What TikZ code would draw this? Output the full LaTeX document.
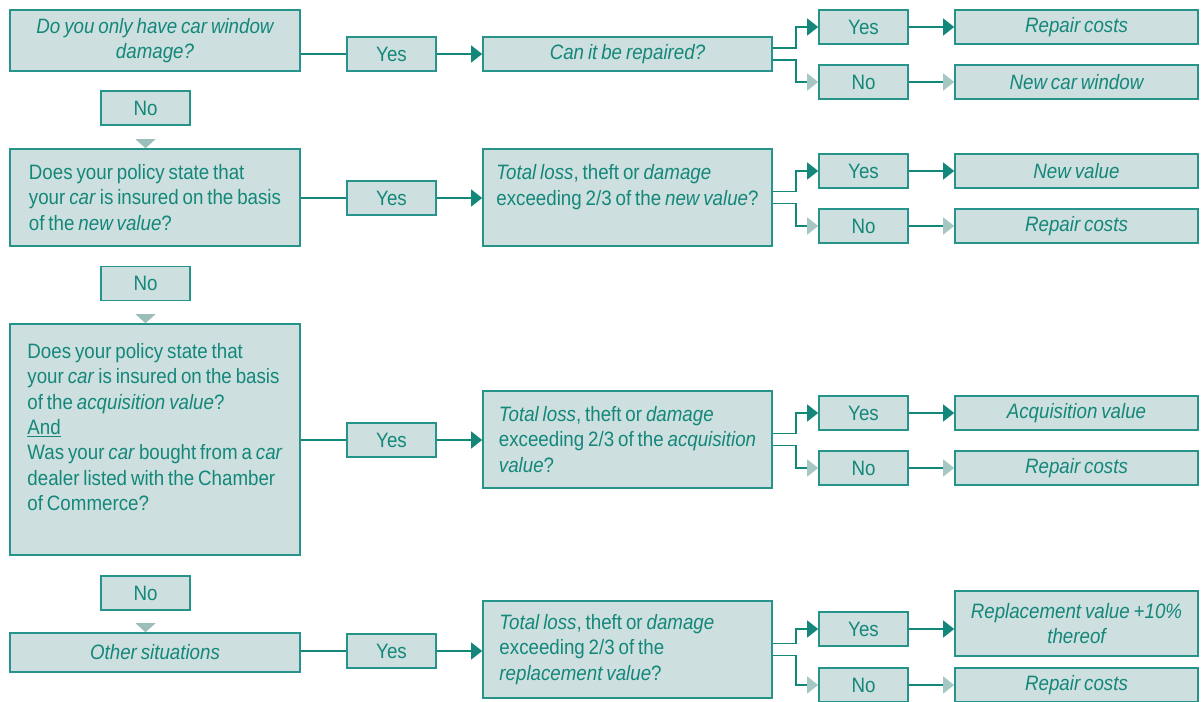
\documentclass[tikz,border=0pt]{standalone}
\usepackage{fontspec}
\setmainfont{Liberation Sans}[FakeStretch=0.9,WordSpace=0.75]
\usetikzlibrary{arrows.meta}

\definecolor{boxteal}{RGB}{20,135,123}
\definecolor{boxline}{RGB}{38,148,138}
\definecolor{boxfill}{RGB}{205,223,222}
\definecolor{tiplight}{RGB}{165,200,197}
\definecolor{markfill}{RGB}{155,190,187}

\tikzset{
  box/.style={draw=boxline, line width=1.1pt, fill=boxfill, text=boxteal,
    inner xsep=0pt, inner ysep=0pt, font=\fontsize{14.8}{18}\selectfont},
  qbox/.style={box, minimum width=7.25cm, align=left},
  ansbox/.style={box, minimum width=7.225cm, align=left},
  lblbox/.style={box, minimum width=2.225cm, minimum height=0.85cm},
  resbox/.style={box, minimum width=6.075cm, minimum height=0.85cm, align=center,
    font=\fontsize{14.8}{18}\selectfont\itshape},
  link/.style={draw=boxteal, line width=1.4pt},
  yesarrow/.style={-{Triangle[length=0.275cm,width=0.42cm]}},
  noarrow/.style={-{Triangle[length=0.275cm,width=0.42cm,color=tiplight]}},
  marker/.style={fill=markfill}
}

\begin{document}
\begin{tikzpicture}[x=0.025cm,y=-0.025cm]
\useasboundingbox (0,0) rectangle (1204,702);

% questions down the left
\node[qbox, align=center, minimum height=1.525cm, font=\fontsize{14.8}{18}\selectfont\itshape]
  (q1) at (155,40.5) {Do you only have car window\\damage?};
\node[qbox, minimum height=2.425cm] (q2) at (155,197.5)
  {Does your policy state that\\your \emph{car} is insured on the basis\\of the \emph{new value}?};
\node[qbox, minimum height=5.775cm] (q3) at (155,439.5)
  {Does your policy state that\\your \emph{car} is insured on the basis\\of the \emph{acquisition value}?\\
   \underline{And}\\Was your \emph{car} bought from a \emph{car}\\dealer listed with the Chamber\\of Commerce?\\ \mbox{}};
\node[qbox, align=center, minimum height=0.975cm, font=\fontsize{14.8}{18}\selectfont\itshape]
  (q4) at (155,652.5) {Other situations};

\node[lblbox] (no1) at (145.5,108) {No};
\node[lblbox] (no2) at (145.5,283.5) {No};
\node[lblbox] (no3) at (145.5,593) {No};

% yes labels and follow-up questions
\node[lblbox] (yes1) at (391.5,54) {Yes};
\node[lblbox] (yes2) at (391.5,198) {Yes};
\node[lblbox] (yes3) at (391.5,440) {Yes};
\node[lblbox] (yes4) at (391.5,651) {Yes};

\node[ansbox, align=center, minimum height=0.85cm, font=\fontsize{14.8}{18}\selectfont\itshape]
  (a1) at (627.5,54) {Can it be repaired?};
\node[ansbox, minimum height=2.425cm] (a2) at (627.5,197.5)
  {\emph{Total loss}, theft or \emph{damage}\\exceeding 2/3 of the \emph{new value}?\\ \mbox{}};
\node[ansbox, minimum height=2.425cm] (a3) at (627.5,439.5)
  {\emph{Total loss}, theft or \emph{damage}\\exceeding 2/3 of the \emph{acquisition}\\\emph{value}?};
\node[ansbox, minimum height=2.425cm] (a4) at (627.5,649.5)
  {\makebox[6.4cm][l]{\emph{Total loss}, theft or \emph{damage}}\\exceeding 2/3 of the\\\emph{replacement value}?};

% outcomes
\node[lblbox] (y1) at (863.5,27) {Yes};
\node[lblbox] (n1) at (863.5,82) {No};
\node[lblbox] (y2) at (863.5,171) {Yes};
\node[lblbox] (n2) at (863.5,226) {No};
\node[lblbox] (y3) at (863.5,413) {Yes};
\node[lblbox] (n3) at (863.5,468) {No};
\node[lblbox] (y4) at (863.5,629) {Yes};
\node[lblbox] (n4) at (863.5,685) {No};

\node[resbox] (r1y) at (1076.5,27) {Repair costs};
\node[resbox] (r1n) at (1076.5,82) {New car window};
\node[resbox] (r2y) at (1076.5,171) {New value};
\node[resbox] (r2n) at (1076.5,226) {Repair costs};
\node[resbox] (r3y) at (1076.5,413) {Acquisition value};
\node[resbox] (r3n) at (1076.5,468) {Repair costs};
\node[resbox, minimum height=1.625cm] (r4y) at (1076.5,623.5) {Replacement value +10\%\\thereof};
\node[resbox] (r4n) at (1076.5,685) {Repair costs};

% connectors
\foreach \r in {1,...,4}{
  \draw[link] (yes\r.west -| q\r.east) -- (yes\r);
  \draw[link, yesarrow] (yes\r) -- (yes\r -| a\r.west);
  \draw[link, yesarrow] ([shift={(0,-6)}]a\r.east) -- ++(23.5,0) |- (y\r);
  \draw[link, noarrow] ([shift={(0,6)}]a\r.east) -- ++(23.5,0) |- (n\r);
  \draw[link, yesarrow] (y\r) -- (y\r -| r\r y.west);
  \draw[link, noarrow] (n\r) -- (r\r n);
}

\foreach \n/\q in {no1/q2,no2/q3,no3/q4}
  \fill[marker] (\n.south |- \q.north) -- ++(-10,-9) -- ++(20,0) -- cycle;
\end{tikzpicture}
\end{document}
